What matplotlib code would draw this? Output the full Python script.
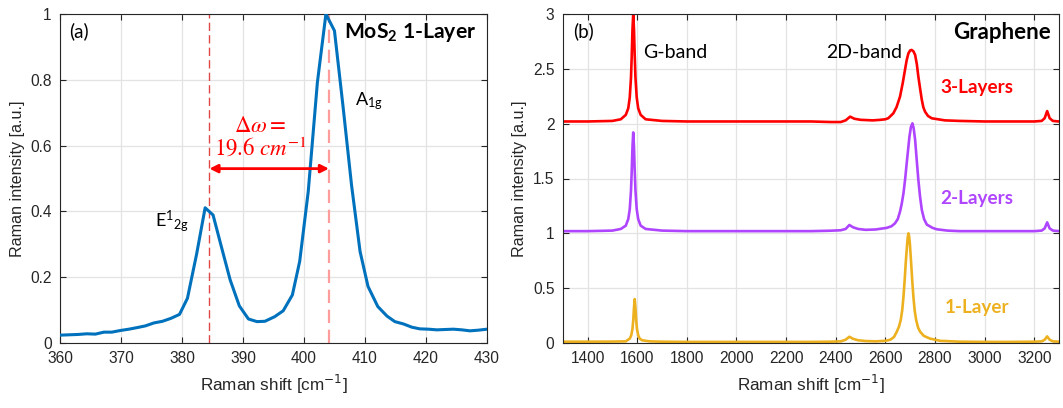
import matplotlib
matplotlib.use("Agg")
import matplotlib.pyplot as plt

plt.rcParams['font.family'] = ['Liberation Sans', 'DejaVu Sans']
plt.rcParams['mathtext.fontset'] = 'custom'
plt.rcParams['mathtext.rm'] = 'Lato'
plt.rcParams['mathtext.it'] = 'Lato:italic'
plt.rcParams['mathtext.bf'] = 'Lato:bold'

# (a) MoS2 monolayer spectrum
mos2_shift = [360.2, 361.6, 363.0, 364.4, 365.8, 367.2, 368.5, 369.9, 371.3, 372.7,
              374.0, 375.4, 376.8, 378.2, 379.6, 380.9, 382.4, 383.8, 385.1, 386.5,
              387.9, 389.4, 390.9, 392.3, 393.6, 395.2, 396.6, 398.1, 399.3, 400.7,
              402.2, 403.6, 405.0, 406.4, 407.8, 409.2, 410.5, 412.1, 413.6, 414.9,
              416.3, 417.7, 419.0, 420.4, 421.8, 423.1, 424.5, 425.9, 427.2, 428.6, 430.0]
mos2_int = [0.024, 0.025, 0.026, 0.028, 0.027, 0.033, 0.033, 0.038, 0.042, 0.047,
            0.052, 0.061, 0.066, 0.075, 0.087, 0.136, 0.27, 0.411, 0.389, 0.29,
            0.192, 0.113, 0.073, 0.065, 0.066, 0.080, 0.098, 0.146, 0.248, 0.46,
            0.792, 1.0, 0.949, 0.72, 0.48, 0.278, 0.172, 0.111, 0.082, 0.065,
            0.058, 0.048, 0.043, 0.042, 0.040, 0.041, 0.042, 0.040, 0.037, 0.039, 0.042]
e2g_pos = 384.5
a1g_pos = 404.1

# (b) graphene spectra, stacked by layer count
g1_shift = [1300, 1400, 1500, 1554, 1560, 1570, 1576, 1581, 1584, 1587, 1590, 1593, 1596,
            1599, 1604, 1610, 1620, 1650, 1700, 1800, 1900, 2000, 2100, 2200, 2300, 2380,
            2420, 2440, 2455, 2470, 2490, 2520, 2560, 2600, 2620, 2635, 2646, 2655, 2662,
            2668, 2673, 2678, 2682, 2687, 2690, 2693, 2696, 2699, 2704, 2708, 2713, 2718,
            2724, 2732, 2740, 2755, 2780, 2820, 2900, 3000, 3100, 3200, 3230, 3242, 3252,
            3262, 3275, 3300]
g1_int = [0.012, 0.012, 0.013, 0.015, 0.025, 0.04, 0.07, 0.13, 0.205, 0.32, 0.40, 0.32, 0.205,
          0.13, 0.07, 0.04, 0.025, 0.015, 0.012, 0.01, 0.01, 0.01, 0.01, 0.01, 0.01, 0.012,
          0.015, 0.03, 0.057, 0.038, 0.025, 0.018, 0.015, 0.02, 0.03, 0.055, 0.103, 0.15, 0.21,
          0.30, 0.422, 0.58, 0.727, 0.88, 0.96, 1.0, 0.97, 0.90, 0.727, 0.58, 0.422, 0.30,
          0.21, 0.14, 0.103, 0.065, 0.04, 0.02, 0.012, 0.01, 0.01, 0.012, 0.015, 0.03, 0.06,
          0.03, 0.015, 0.012]

g2_shift = [1300, 1400, 1500, 1534, 1554, 1564, 1570, 1575, 1578, 1581, 1584, 1587, 1590,
            1593, 1598, 1604, 1614, 1634, 1700, 1800, 1900, 2000, 2100, 2200, 2300, 2380,
            2420, 2440, 2455, 2470, 2490, 2520, 2560, 2606, 2625, 2639, 2650, 2659, 2666,
            2673, 2680, 2686, 2697, 2703, 2709, 2714, 2720, 2726, 2733, 2740, 2747, 2756,
            2767, 2790, 2807, 2850, 2900, 3000, 3100, 3200, 3230, 3242, 3252, 3262, 3275, 3300]
g2_int = [1.02, 1.02, 1.025, 1.04, 1.07, 1.13, 1.22, 1.39, 1.57, 1.79, 1.92, 1.79, 1.57,
          1.39, 1.22, 1.13, 1.07, 1.04, 1.025, 1.02, 1.02, 1.02, 1.02, 1.02, 1.02, 1.024,
          1.028, 1.04, 1.076, 1.055, 1.04, 1.032, 1.035, 1.05, 1.065, 1.092, 1.13, 1.197, 1.27,
          1.365, 1.50, 1.639, 1.88, 1.97, 2.003, 1.96, 1.851, 1.68, 1.486, 1.33, 1.213, 1.13,
          1.08, 1.05, 1.037, 1.025, 1.02, 1.02, 1.02, 1.02, 1.025, 1.045, 1.10, 1.045, 1.025, 1.02]

g3_shift = [1300, 1400, 1500, 1534, 1554, 1564, 1570, 1575, 1578, 1581, 1584, 1587, 1590,
            1593, 1598, 1604, 1614, 1634, 1700, 1800, 1900, 2000, 2100, 2200, 2300, 2380,
            2420, 2440, 2458, 2475, 2500, 2550, 2580, 2600, 2612, 2632, 2645, 2659, 2670,
            2679, 2686, 2693, 2700, 2706, 2713, 2720, 2727, 2733, 2740, 2747, 2753, 2760,
            2772, 2787, 2840, 2900, 3000, 3100, 3200, 3230, 3242, 3252, 3262, 3275, 3300]
g3_int = [2.02, 2.02, 2.025, 2.04, 2.08, 2.14, 2.24, 2.42, 2.62, 2.86, 3.0, 2.86, 2.62,
          2.42, 2.24, 2.14, 2.08, 2.04, 2.025, 2.02, 2.02, 2.02, 2.02, 2.02, 2.02, 2.015,
          2.015, 2.03, 2.064, 2.045, 2.035, 2.03, 2.035, 2.04, 2.05, 2.094, 2.15, 2.246, 2.37,
          2.489, 2.58, 2.642, 2.668, 2.672, 2.66, 2.627, 2.54, 2.428, 2.32, 2.216, 2.15, 2.109,
          2.07, 2.049, 2.03, 2.025, 2.02, 2.02, 2.02, 2.025, 2.05, 2.115, 2.05, 2.025, 2.02]

layer_names = ['1-Layer', '2-Layers', '3-Layers']
layer_colors = ['#EDB120', '#B045FF', '#FF0000']
label_y = [0.32, 1.32, 2.33]

axis_col = '#262626'
grid_col = '#E3E3E3'


def style_axes(ax):
    ax.tick_params(direction='in', top=True, right=True, length=4, width=0.8,
                   labelsize=11.2, colors=axis_col, pad=6)
    for s in ax.spines.values():
        s.set_color(axis_col)
        s.set_linewidth(0.8)
    ax.grid(True, color=grid_col, linewidth=0.9)
    ax.set_axisbelow(True)


fig = plt.figure(figsize=(10.63, 4.08), dpi=100)
ax1 = fig.add_axes([0.0564, 0.1593, 0.4017, 0.8064])
ax2 = fig.add_axes([0.5294, 0.1593, 0.4669, 0.8064])

# ---- panel (a)
ax1.axvline(e2g_pos, color='#E04848', linestyle=(0, (6, 3)), linewidth=1.0, zorder=1)
ax1.axvline(a1g_pos, color='#FF9C9C', linestyle=(0, (6, 3)), linewidth=1.6, zorder=1)
ax1.plot(mos2_shift, mos2_int, color='#0072BD', linewidth=2.2, zorder=3)
ax1.annotate('', xy=(e2g_pos, 0.53), xytext=(a1g_pos, 0.53),
             arrowprops=dict(arrowstyle='<|-|>', color='#FF0000', lw=2, mutation_scale=12,
                             shrinkA=0, shrinkB=0), zorder=4)
ax1.text(392.8, 0.66, r'$\Delta\omega =$', color='#FF0000', fontsize=16.5,
         ha='center', va='center', math_fontfamily='stix')
ax1.text(392.8, 0.594, r'$19.6\ cm^{-1}$', color='#FF0000', fontsize=16.5,
         ha='center', va='center', math_fontfamily='stix')
ax1.text(0.022, 0.948, '(a)', transform=ax1.transAxes, fontsize=13.5, family='Lato',
         ha='left', va='center')
ax1.text(0.975, 0.945, r'MoS$_\mathbf{2}$ 1-Layer', transform=ax1.transAxes, fontsize=15.2,
         family='Lato', fontweight='bold', ha='right', va='center')
ax1.text(408.4, 0.735, r'A$_{\mathrm{1g}}$', fontsize=13, family='Lato', ha='left', va='center')
ax1.text(375.6, 0.37, r'E$^{1}{}_{\mathrm{2g}}$', fontsize=13, family='Lato',
         ha='left', va='center')
ax1.set_xlim(360, 430)
ax1.set_ylim(0, 1)
ax1.set_xticks(range(360, 431, 10))
ax1.set_yticks([0, 0.2, 0.4, 0.6, 0.8, 1])
ax1.set_yticklabels(['0', '0.2', '0.4', '0.6', '0.8', '1'])
ax1.set_xlabel(r'Raman shift [cm$^{-1}$]', fontsize=12.3, color=axis_col,
               math_fontfamily='dejavusans', labelpad=5)
ax1.set_ylabel('Raman intensity [a.u.]', fontsize=11.6, color=axis_col)
style_axes(ax1)

# ---- panel (b)
for xs, ys, col in [(g1_shift, g1_int, layer_colors[0]),
                    (g2_shift, g2_int, layer_colors[1]),
                    (g3_shift, g3_int, layer_colors[2])]:
    ax2.plot(xs, ys, color=col, linewidth=1.9)
for name, col, yl in zip(layer_names, layer_colors, label_y):
    ax2.text(2968, yl, name, color=col, fontsize=13.6, family='Lato', fontweight='bold',
             ha='center', va='center')
ax2.text(0.02, 0.948, '(b)', transform=ax2.transAxes, fontsize=13.5, family='Lato',
         ha='left', va='center')
ax2.text(0.983, 0.945, 'Graphene', transform=ax2.transAxes, fontsize=16, family='Lato',
         fontweight='bold', ha='right', va='center')
ax2.text(1624, 2.65, 'G-band', fontsize=14, family='Lato', ha='left', va='center')
ax2.text(2361, 2.65, '2D-band', fontsize=14, family='Lato', ha='left', va='center')
ax2.set_xlim(1300, 3300)
ax2.set_ylim(0, 3)
ax2.set_xticks(range(1400, 3201, 200))
ax2.set_yticks([0, 0.5, 1, 1.5, 2, 2.5, 3])
ax2.set_yticklabels(['0', '0.5', '1', '1.5', '2', '2.5', '3'])
ax2.set_xlabel(r'Raman shift [cm$^{-1}$]', fontsize=12.3, color=axis_col,
               math_fontfamily='dejavusans', labelpad=5)
ax2.set_ylabel('Raman intensity [a.u.]', fontsize=11.6, color=axis_col)
style_axes(ax2)

fig.savefig('out.png', dpi=100)
